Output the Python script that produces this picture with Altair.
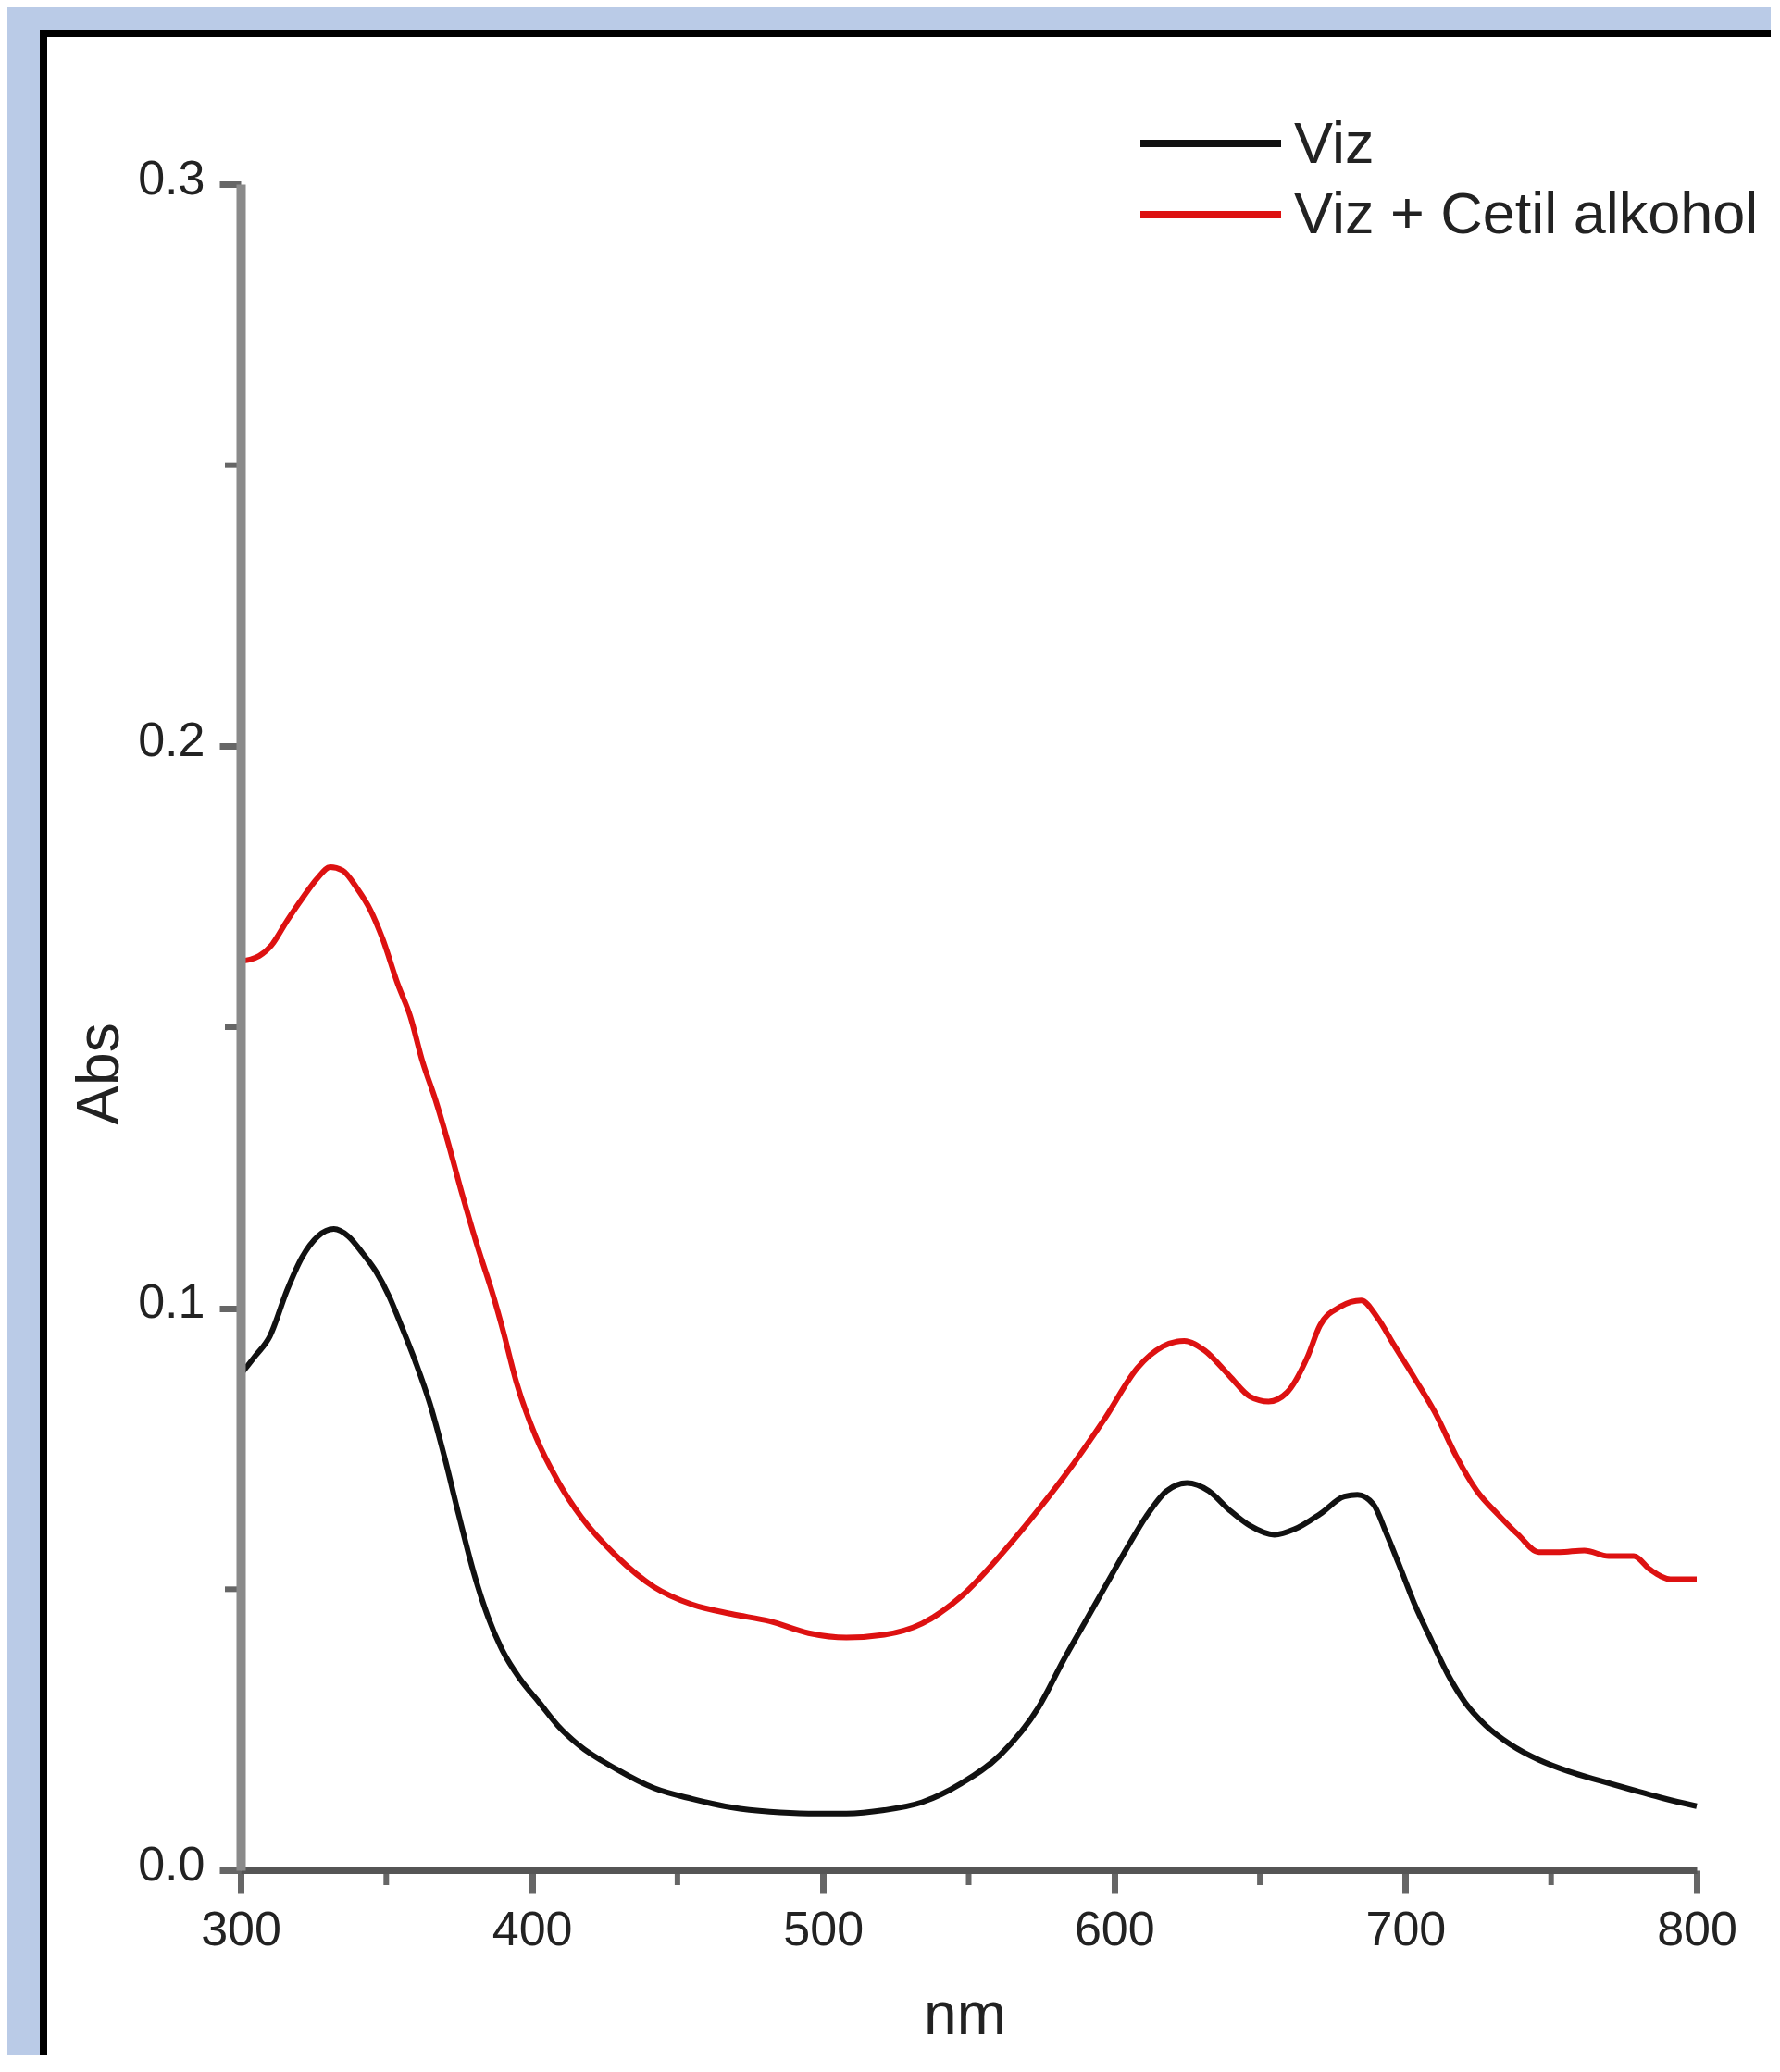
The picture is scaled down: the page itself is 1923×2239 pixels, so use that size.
import altair as alt
import pandas as pd

# ---- data ----
SERIES = ["Viz", "Viz + Cetil alkohol"]
COLORS = ["#111111", "#DD1111"]

NM_VIZ = [300, 305, 310, 316, 321, 326.5, 332, 337, 342, 346.5, 351, 355, 360, 365, 370,
          375, 380, 385, 390, 396, 402.6, 409, 415.8, 429, 442, 455, 468.5, 481.7, 495, 508,
          521, 534, 547.6, 560.8, 574, 582.7, 589.8, 596.9, 604, 611, 618, 625, 632.4,
          639.5, 646.6, 655, 662, 670.7, 679, 683.5, 689, 693.4, 697.7, 703.4, 709, 714.7,
          720.4, 727.5, 736, 746, 756, 767, 778.6, 788.6, 800]
ABS_VIZ = [0.0882, 0.0915, 0.0950, 0.1033, 0.1090, 0.1128, 0.1141, 0.1128, 0.1097, 0.1065,
           0.1021, 0.0971, 0.0905, 0.0830, 0.0735, 0.0630, 0.0530, 0.0450, 0.0390, 0.0340,
           0.0298, 0.0257, 0.0224, 0.0180, 0.0146, 0.0127, 0.0112, 0.0104, 0.0101, 0.0101,
           0.0107, 0.0121, 0.0155, 0.0205, 0.0290, 0.0375, 0.0440, 0.0505, 0.0570, 0.0630,
           0.0675, 0.0689, 0.0675, 0.0641, 0.0613, 0.0597, 0.0607, 0.0634, 0.0665, 0.0668,
           0.0651, 0.0600, 0.0545, 0.0470, 0.0408, 0.0347, 0.0299, 0.0258, 0.0224, 0.0196,
           0.0176, 0.0159, 0.0142, 0.0128, 0.0114]

NM_CETIL = [300, 303.5, 306.4, 310.6, 316, 321, 326.5, 330.7, 335, 340, 344.5, 348.7, 354,
            358.2, 362.5, 366.7, 371, 376, 381.5, 386.8, 390, 394.7, 401.3, 409.2, 417, 429,
            442, 455, 468.5, 481.7, 495, 508, 521, 534, 547.6, 560.8, 574, 582.7, 596.9, 608,
            616.7, 624, 631, 639.5, 646.6, 653, 659.3, 666.4, 670.6, 677.7, 684.8, 690.4, 696,
            703.3, 710.4, 717.4, 724.5, 731.6, 738.7, 745.8, 752.9, 761.4, 769.8, 778.4, 784,
            791, 800]
ABS_CETIL = [0.1618, 0.1621, 0.1627, 0.1646, 0.1690, 0.1728, 0.1766, 0.1785, 0.1779, 0.1747,
             0.1709, 0.1658, 0.1576, 0.1520, 0.1438, 0.1374, 0.1299, 0.1204, 0.1107, 0.1021,
             0.0962, 0.0868, 0.0772, 0.0690, 0.0628, 0.0559, 0.0504, 0.0473, 0.0456, 0.0443,
             0.0422, 0.0414, 0.0419, 0.0439, 0.0488, 0.0560, 0.0642, 0.0700, 0.0805, 0.0894,
             0.0932, 0.0942, 0.0925, 0.0880, 0.0843, 0.0834, 0.0850, 0.0914, 0.0969, 0.1003,
             0.1014, 0.0983, 0.0935, 0.0874, 0.0812, 0.0737, 0.0675, 0.0634, 0.0597, 0.0566,
             0.0566, 0.0569, 0.0559, 0.0559, 0.0535, 0.0518, 0.0518]

X_TICKS = [300, 400, 500, 600, 700, 800]
X_MINOR = [350, 450, 550, 650, 750]
Y_TICKS = [0.0, 0.1, 0.2, 0.3]
Y_MINOR = [0.05, 0.15, 0.25]

FONT = "Liberation Sans"
TEXT = "#222222"

df = pd.concat([
    pd.DataFrame({"nm": NM_VIZ, "abs": ABS_VIZ, "series": SERIES[0]}),
    pd.DataFrame({"nm": NM_CETIL, "abs": ABS_CETIL, "series": SERIES[1]}),
])

W, H = 1573, 1822

xscale = alt.Scale(domain=[300, 800], nice=False, zero=False)
yscale = alt.Scale(domain=[0, 0.3], nice=False, zero=False)

xaxis = alt.Axis(values=X_TICKS, format="d", title="nm", grid=False, zindex=1,
                 tickSize=25, tickWidth=7, tickColor="#666666",
                 domainColor="#555555", domainWidth=7,
                 labelFont=FONT, labelFontSize=52, labelColor=TEXT, labelPadding=14,
                 labelFlush=False, labelOverlap=False,
                 titleFont=FONT, titleFontSize=64, titleColor=TEXT, titleFontWeight="normal",
                 titleX=782, titleY=176, titleAlign="center", titleBaseline="alphabetic")
yaxis = alt.Axis(values=Y_TICKS, format=".1f", title="Abs", grid=False, zindex=1,
                 tickSize=23, tickWidth=7, tickColor="#666666",
                 domainColor="#8a8a8a", domainWidth=10,
                 labelFont=FONT, labelFontSize=52, labelColor=TEXT, labelPadding=16,
                 labelOffset=-6, labelOverlap=False,
                 titleFont=FONT, titleFontSize=64, titleColor=TEXT, titleFontWeight="normal",
                 titleX=-133, titleY=961, titleAngle=270, titleAlign="center",
                 titleBaseline="alphabetic")

one = alt.Data(values=[{}])

frame = alt.Chart(one).mark_rect(fill="white", stroke="black", strokeWidth=8).encode(
    x=alt.value(-213), x2=alt.value(1800), y=alt.value(-163), y2=alt.value(2150))

lines = alt.Chart(df).mark_line(interpolate="monotone", strokeWidth=6).encode(
    x=alt.X("nm:Q", scale=xscale, axis=xaxis),
    y=alt.Y("abs:Q", scale=yscale, axis=yaxis),
    color=alt.Color("series:N", scale=alt.Scale(domain=SERIES, range=COLORS), legend=None),
)

xminor = alt.Chart(pd.DataFrame({"nm": X_MINOR})).mark_rule(
    color="#666666", strokeWidth=6).encode(
    x=alt.X("nm:Q", scale=xscale, axis=xaxis),
    y=alt.value(H), y2=alt.value(H + 16))

yminor = alt.Chart(pd.DataFrame({"abs": Y_MINOR})).mark_rule(
    color="#666666", strokeWidth=6).encode(
    y=alt.Y("abs:Q", scale=yscale, axis=yaxis),
    x=alt.value(-17), x2=alt.value(0))

LEG_LINE_Y = [-44, 33]
LEG_TEXT_Y = [-23, 53]
legend_layers = []
for i, name in enumerate(SERIES):
    legend_layers.append(
        alt.Chart(one).mark_rule(color=COLORS[i], strokeWidth=8).encode(
            x=alt.value(972), x2=alt.value(1124), y=alt.value(LEG_LINE_Y[i])))
    legend_layers.append(
        alt.Chart(one).mark_text(align="left", baseline="alphabetic", font=FONT,
                                 fontSize=63, color=TEXT).encode(
            x=alt.value(1138), y=alt.value(LEG_TEXT_Y[i]), text=alt.value(name)))

chart = alt.layer(frame, lines, xminor, yminor, *legend_layers).properties(
    width=W, height=H,
    autosize=alt.AutoSizeParams(type="none"),
    padding={"left": 252, "top": 191, "right": 80, "bottom": 200},
    background="#BACBE7",
).configure_view(strokeWidth=0)

chart.save("out.html", embed_options={"renderer": "svg", "actions": False})
